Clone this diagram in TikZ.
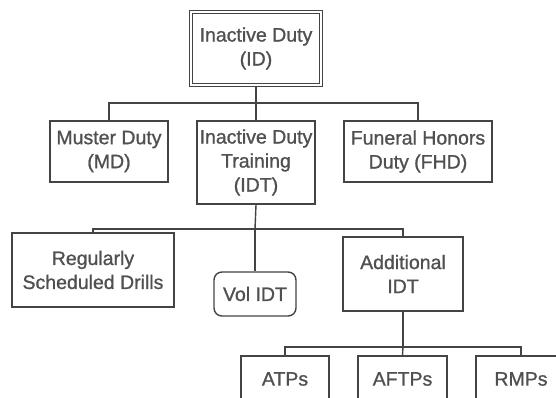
\documentclass[tikz,border=0pt]{standalone}
\usepackage{fontspec}
\setmainfont{Liberation Sans}
\newfontfamily\boxfont{Liberation Sans}[FakeBold=1.0]
\definecolor{boxline}{HTML}{444444}
\definecolor{txt}{HTML}{505050}
\begin{document}
\begin{tikzpicture}[x=1pt,y=-1pt,
  box/.style={draw=boxline,line width=1.4pt,fill=white,text=txt,align=center,
    inner sep=0pt,font=\boxfont\fontsize{19.5}{24}\selectfont},
  conn/.style={draw=boxline,line width=1.4pt}]
\useasboundingbox (0,0) rectangle (556,398);
\clip (0,0) rectangle (556,398);
\fill[white] (0,0) rectangle (556,398);
% level 0
\node[box,minimum width=130pt,minimum height=73pt,double=white,double distance=1.6pt,line width=1.1pt] (id) at (256,48.5) {Inactive Duty\\(ID)};
% level 1
\node[box,minimum width=118pt,minimum height=61pt] (md) at (109,151.5) {Muster Duty\\(MD)};
\node[box,minimum width=118pt,minimum height=83pt] (idt) at (256,162.5) {Inactive Duty\\Training\\(IDT)};
\node[box,minimum width=148pt,minimum height=61pt] (fhd) at (418,151.5) {Funeral Honors\\Duty (FHD)};
\coordinate (b1) at (256,103);
\draw[conn] (id.south) -- (b1);
\draw[conn] (md.north) |- (b1) -| (fhd.north);
\draw[conn] (b1) -- (idt.north);
% level 2
\node[box,minimum width=162pt,minimum height=74pt] (rsd) at (93,270) {Regularly\\Scheduled Drills};
\node[box,minimum width=82pt,minimum height=44pt,rounded corners=8pt] (vol) at (255,294) {Vol IDT};
\node[box,minimum width=120pt,minimum height=74pt] (add) at (403,274) {Additional\\IDT};
\coordinate (b2) at (255,229);
\draw[conn] (idt.south) -- (b2);
\draw[conn] (rsd.north) |- (b2) -| (add.north);
\draw[conn] (b2) -- (vol.north);
% level 3
\node[box,minimum width=88pt,minimum height=46pt] (atp) at (285,379) {ATPs};
\node[box,minimum width=89pt,minimum height=46pt] (aftp) at (402.5,379) {AFTPs};
\node[box,minimum width=90pt,minimum height=46pt] (rmp) at (521,379) {RMPs};
\coordinate (b3) at (403,347);
\draw[conn] (add.south) -- (b3);
\draw[conn] (atp.north) |- (b3) -| (rmp.north);
\draw[conn] (b3) -- (aftp.north);
\end{tikzpicture}
\end{document}
